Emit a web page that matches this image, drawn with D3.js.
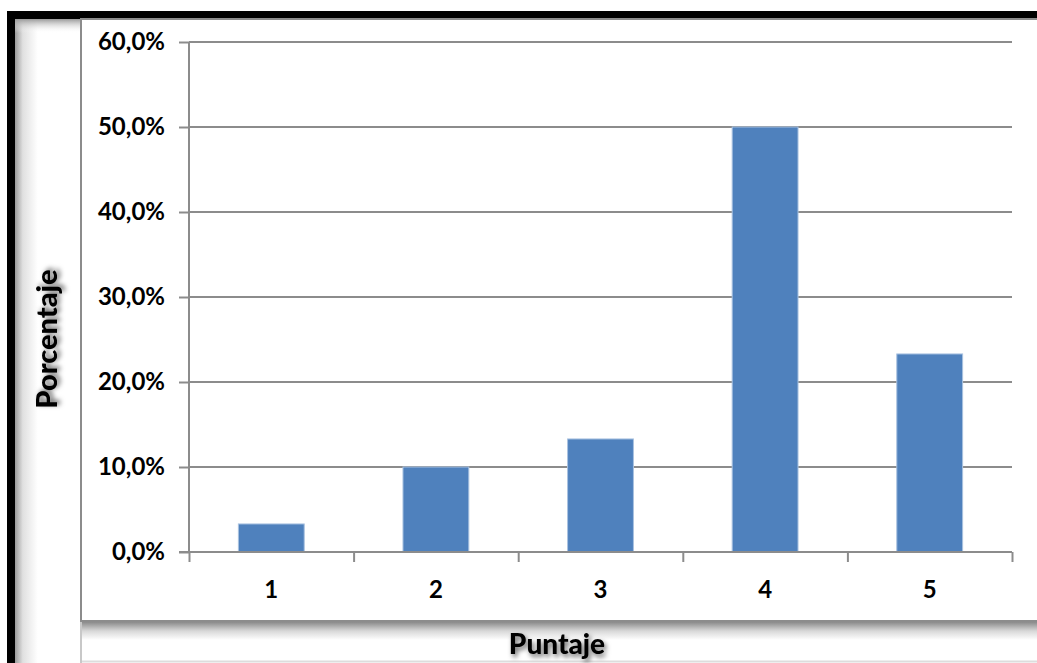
<!DOCTYPE html>
<html><head><meta charset="utf-8">
<script src="https://cdn.jsdelivr.net/npm/d3@7"></script>
<style>html,body{margin:0;padding:0;background:#fff;overflow:hidden}</style>
</head><body>
<svg id="c" width="1037" height="663"></svg>
<script>
const categories = ["1","2","3","4","5"];
const values = [3.3, 10.0, 13.3, 50.0, 23.3];
const yTicks = [0,10,20,30,40,50,60];
const yTitle = "Porcentaje";
const xTitle = "Puntaje";

const svg = d3.select("#c");
const defs = svg.append("defs");
const f = defs.append("filter").attr("id","ts").attr("x","-20%").attr("y","-40%").attr("width","140%").attr("height","180%");
f.append("feDropShadow").attr("dx",2).attr("dy",3).attr("stdDeviation",2.5).attr("flood-color","#000").attr("flood-opacity",0.6);
const gL = defs.append("linearGradient").attr("id","gl").attr("x1","0").attr("x2","1");
gL.append("stop").attr("offset","0").attr("stop-color","#9a9a9a");
gL.append("stop").attr("offset","0.12").attr("stop-color","#e0e0e0");
gL.append("stop").attr("offset","0.35").attr("stop-color","#ffffff");
gL.append("stop").attr("offset","1").attr("stop-color","#ffffff");
const gT = defs.append("linearGradient").attr("id","gt").attr("x1","0").attr("x2","0").attr("y1","0").attr("y2","1");
gT.append("stop").attr("offset","0").attr("stop-color","#999").attr("stop-opacity",1);
gT.append("stop").attr("offset","1").attr("stop-color","#fff").attr("stop-opacity",0);
const gS = defs.append("linearGradient").attr("id","gs").attr("x1","0").attr("x2","0").attr("y1","0").attr("y2","1");
gS.append("stop").attr("offset","0").attr("stop-color","#8a8a8a");
gS.append("stop").attr("offset","0.5").attr("stop-color","#d8d8d8");
gS.append("stop").attr("offset","1").attr("stop-color","#ffffff");

svg.append("rect").attr("x",7).attr("y",11).attr("width",1100).attr("height",700).attr("fill","#000");
svg.append("rect").attr("x",15).attr("y",19).attr("width",1100).attr("height",700).attr("fill","#fff");
svg.append("rect").attr("x",15).attr("y",19).attr("width",65).attr("height",700).attr("fill","url(#gl)");
svg.append("rect").attr("x",15).attr("y",19).attr("width",65).attr("height",14).attr("fill","url(#gt)");
svg.append("line").attr("x1",81).attr("x2",81).attr("y1",19).attr("y2",663).attr("stroke","#c8c8c8").attr("stroke-width",2);
svg.append("rect").attr("x",82).attr("y",622).attr("width",1000).attr("height",18).attr("fill","url(#gs)");
svg.append("line").attr("x1",82).attr("x2",1100).attr("y1",661.5).attr("y2",661.5).attr("stroke","#ddd").attr("stroke-width",2);
svg.append("rect").attr("x",81).attr("y",19).attr("width",1000).attr("height",602).attr("fill","#fff").attr("stroke","#8c8c8c").attr("stroke-width",2);

const x = d3.scaleBand().domain(categories).range([189,1012]).paddingInner(0.6).paddingOuter(0.3);
const xEdge = d3.scaleLinear().domain([0,5]).range([189,1012]);
const y = d3.scaleLinear().domain([0,60]).range([552,42]);

svg.append("g").selectAll("line").data(yTicks.filter(d=>d>0)).join("line")
  .attr("x1",189).attr("x2",1012).attr("y1",d=>y(d)).attr("y2",d=>y(d))
  .attr("stroke","#8c8c8c").attr("stroke-width",2);

const yAxis = svg.append("g").attr("transform","translate(189,0)")
  .call(d3.axisLeft(y).tickValues(yTicks).tickSize(10).tickPadding(14).tickFormat(d=>d3.format(".1f")(d).replace(".",",")+"%"));
yAxis.select(".domain").attr("stroke","#8c8c8c").attr("stroke-width",2).attr("d","M0,42V552");
yAxis.selectAll(".tick line").attr("stroke","#8c8c8c").attr("stroke-width",2);
yAxis.selectAll("text").attr("font-family","Lato, sans-serif").attr("font-size",24).attr("font-weight","bold").attr("fill","#000");

svg.append("g").selectAll("rect").data(values).join("rect")
  .attr("x",(d,i)=>x(categories[i])).attr("width",x.bandwidth())
  .attr("y",d=>y(d)).attr("height",d=>y(0)-y(d))
  .attr("fill","#4f81bd").attr("stroke","#a9c2e0").attr("stroke-width",1);

const xAxis = svg.append("g").attr("transform","translate(0,552)")
  .call(d3.axisBottom(xEdge).tickValues([0,1,2,3,4,5]).tickSize(10).tickFormat(""));
xAxis.select(".domain").attr("stroke","#8c8c8c").attr("stroke-width",2).attr("d","M179,0H1012");
xAxis.selectAll(".tick line").attr("stroke","#8c8c8c").attr("stroke-width",2);
svg.append("g").selectAll("text").data(categories).join("text")
  .attr("x",d=>x(d)+x.bandwidth()/2).attr("y",598).attr("text-anchor","middle")
  .attr("font-family","Lato, sans-serif").attr("font-size",24).attr("font-weight","bold").text(d=>d);

svg.append("text").attr("transform","translate(57,339) rotate(-90)").attr("text-anchor","middle")
  .attr("font-family","Lato, sans-serif").attr("font-size",29).attr("font-weight","900").attr("filter","url(#ts)").text(yTitle);
svg.append("text").attr("x",557).attr("y",654).attr("text-anchor","middle")
  .attr("font-family","Lato, sans-serif").attr("font-size",28).attr("font-weight","900").attr("filter","url(#ts)").text(xTitle);
</script>
</body></html>
